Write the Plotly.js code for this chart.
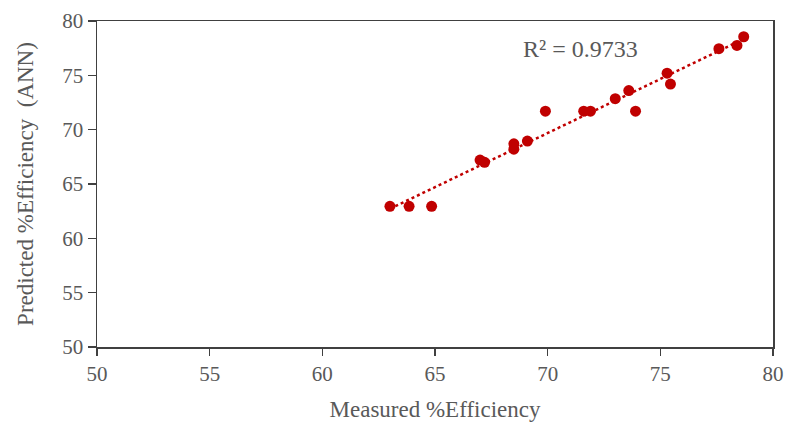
<!DOCTYPE html>
<html>
<head>
<meta charset="utf-8">
<script src="https://cdn.plot.ly/plotly-3.0.1.min.js"></script>
<style>html,body{margin:0;padding:0;background:#fff;}#chart{width:792px;height:425px;}</style>
</head>
<body>
<div id="chart"></div>
<script>
const measured = [63.0, 63.85, 64.85, 67.0, 67.2, 68.5, 68.5, 69.1, 69.9, 71.6, 71.9, 73.0, 73.6, 73.9, 75.3, 75.45, 77.6, 78.4, 78.7];
const predicted = [62.95, 62.95, 62.95, 67.2, 67.0, 68.7, 68.2, 68.95, 71.7, 71.7, 71.7, 72.85, 73.6, 71.7, 75.2, 74.2, 77.45, 77.75, 78.55];
const xTicks = [50, 55, 60, 65, 70, 75, 80];
const yTicks = [50, 55, 60, 65, 70, 75, 80];
const r2Label = "R² = 0.9733";

// least-squares trendline from the data
const n = measured.length;
const mx = measured.reduce((a, b) => a + b, 0) / n;
const my = predicted.reduce((a, b) => a + b, 0) / n;
let sxy = 0, sxx = 0;
for (let i = 0; i < n; i++) { sxy += (measured[i] - mx) * (predicted[i] - my); sxx += (measured[i] - mx) ** 2; }
const slope = sxy / sxx, intercept = my - slope * mx;
const xmin = Math.min(...measured), xmax = Math.max(...measured);
const trendX = [xmin, xmax];
const trendY = trendX.map(v => intercept + slope * v);

const serif = "Liberation Serif, Times New Roman, serif";
const grey = "#595959";

Plotly.newPlot('chart', [
  {x: trendX, y: trendY, mode: 'lines', line: {color: '#C00000', width: 2.5, dash: 'dot'}, hoverinfo: 'skip'},
  {x: measured, y: predicted, mode: 'markers', marker: {color: '#C00000', size: 11}}
], {
  width: 792, height: 425,
  margin: {l: 97, r: 19, t: 21, b: 78},
  showlegend: false,
  paper_bgcolor: '#fff', plot_bgcolor: '#fff',
  font: {family: serif, color: grey, size: 21},
  xaxis: {
    range: [50, 80], tickvals: xTicks, ticktext: xTicks.map(String),
    showgrid: false, zeroline: false, showline: true, linecolor: '#404040', linewidth: 1.5, mirror: true,
    ticks: 'outside', ticklen: 7, tickcolor: '#404040', tickwidth: 1.5,
    tickfont: {family: serif, size: 21, color: grey},
    title: {text: 'Measured %Efficiency', font: {family: serif, size: 23, color: grey}, standoff: 16}
  },
  yaxis: {
    range: [50, 80], tickvals: yTicks, ticktext: yTicks.map(String),
    showgrid: false, zeroline: false, showline: true, linecolor: '#404040', linewidth: 1.5, mirror: true,
    ticks: 'outside', ticklen: 8, tickcolor: '#404040', tickwidth: 1.5,
    tickfont: {family: serif, size: 21, color: grey},
    title: {text: 'Predicted %Efficiency  (ANN)', font: {family: serif, size: 23, color: grey}, standoff: 22}
  },
  annotations: [{
    x: 0.715, y: 0.915, xref: 'paper', yref: 'paper', xanchor: 'center', yanchor: 'middle',
    text: r2Label, showarrow: false, font: {family: serif, size: 24, color: grey}
  }]
}, {displayModeBar: false, staticPlot: true});
</script>
</body>
</html>
